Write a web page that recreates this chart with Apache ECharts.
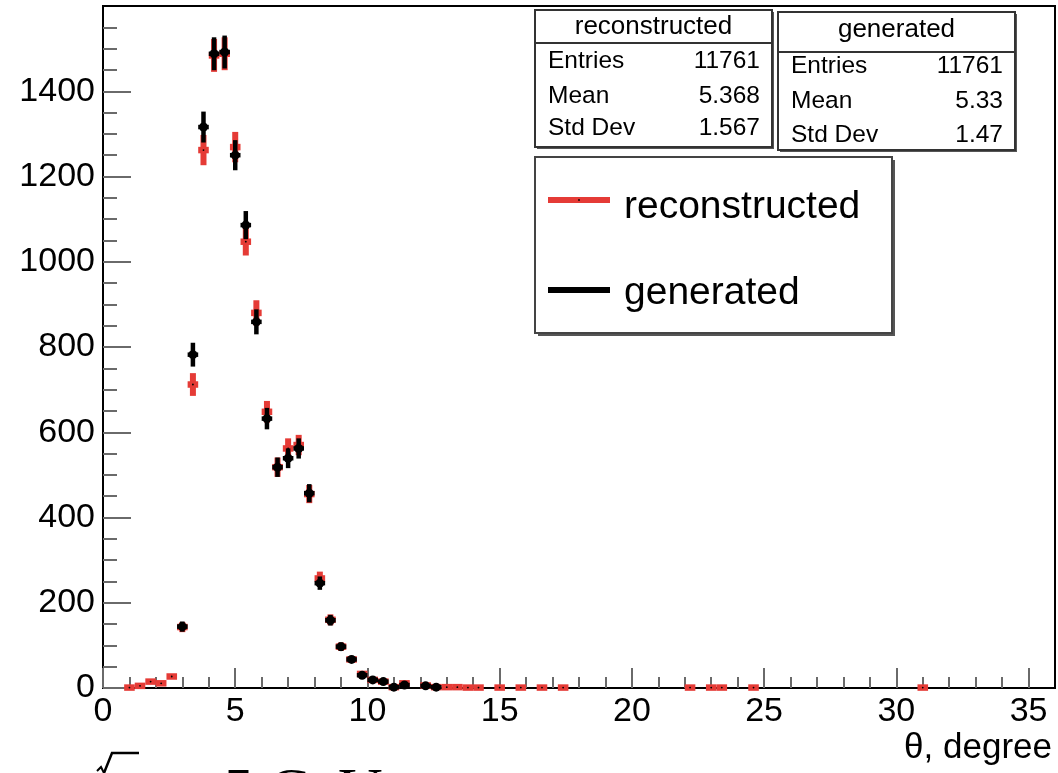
<!DOCTYPE html>
<html><head><meta charset="utf-8">
<script src="https://cdn.jsdelivr.net/npm/echarts@6/dist/echarts.min.js"></script>
<style>html,body{margin:0;padding:0;background:#fff;overflow:hidden}#c{width:1058px;height:773px}</style>
</head><body><div id="c"></div>
<script>
// ---- data (bin centres in degrees, counts per 0.4 degree bin) ----
const recX = [1.0,1.4,1.8,2.2,2.6,3.0,3.4,3.8,4.2,4.6,5.0,5.4,5.8,6.2,6.6,7.0,7.4,7.8,8.2,8.6,9.0,9.4,9.8,10.2,10.6,11.0,11.4,12.2,12.6,13.0,13.4,13.8,14.2,15.0,15.8,16.6,17.4,22.2,23.0,23.4,24.6,31.0];
const recY = [1,5,15,11,27,143,712,1262,1484,1488,1269,1047,880,648,518,562,570,455,257,160,97,67,33,19,15,2,11,6,2,2,2,1,1,1,1,1,1,1,1,1,1,1];
const genX = [3.0,3.4,3.8,4.2,4.6,5.0,5.4,5.8,6.2,6.6,7.0,7.4,7.8,8.2,8.6,9.0,9.4,9.8,10.2,10.6,11.0,11.4,12.2,12.6];
const genY = [144,782,1316,1488,1492,1250,1086,859,632,518,539,562,457,246,159,97,67,30,19,15,2,7,5,2];
const BIN_WIDTH = 0.4;
const xMajor = [0,5,10,15,20,25,30,35];
const yMajor = [0,200,400,600,800,1000,1200,1400];
const statsRec = [["Entries","11761"],["Mean","5.368"],["Std Dev","1.567"]];
const statsGen = [["Entries","11761"],["Mean","5.33"],["Std Dev","1.47"]];
const seriesNames = ["reconstructed","generated"];
const xTitle = "θ, degree";

const xMinor = [], yMinor = [];
for (let v = 1; v < 36; v++) if (v % 5) xMinor.push(v);
for (let v = 50; v < 1600; v += 50) if (v % 200) yMinor.push(v);

const RED = '#e53b36';
const FONT = '"Liberation Sans", Arial, Helvetica, sans-serif';
const SERIF = '"Liberation Serif", "Times New Roman", serif';

function errRender(color, vW, hW, r, dot) {
  return function (params, api) {
    const x = api.value(0), y = api.value(1), e = Math.sqrt(y);
    const p = api.coord([x, y]);
    const pt = api.coord([x, y + e]);
    const pb = api.coord([x, Math.max(0, y - e)]);
    const pl = api.coord([x - BIN_WIDTH / 2, y]);
    const pr = api.coord([x + BIN_WIDTH / 2, y]);
    const ch = [
      {type:'line', shape:{x1:p[0], y1:pt[1], x2:p[0], y2:pb[1]}, style:{stroke:color, lineWidth:vW}},
      {type:'line', shape:{x1:pl[0], y1:p[1], x2:pr[0], y2:p[1]}, style:{stroke:color, lineWidth:hW}}
    ];
    if (r) ch.push({type:'circle', shape:{cx:p[0], cy:p[1], r:r}, style:{fill:color}});
    if (dot) ch.push({type:'circle', shape:{cx:p[0], cy:p[1], r:0.9}, style:{fill:dot}});
    return {type:'group', children: ch};
  };
}

function statBox(x, y, w, h, headH, title, rows, rowYs, titleY) {
  const els = [
    {type:'rect', shape:{x:x+2, y:y+2, width:w, height:h}, style:{fill:'#555'}},
    {type:'rect', shape:{x:x, y:y, width:w, height:h}, style:{fill:'#fff', stroke:'#333', lineWidth:2}},
    {type:'line', shape:{x1:x, y1:y+headH, x2:x+w, y2:y+headH}, style:{stroke:'#333', lineWidth:2}},
    {type:'text', x:x+w/2, y:titleY, style:{text:title, font:'26px ' + FONT, fill:'#000', align:'center', verticalAlign:'middle'}}
  ];
  rows.forEach((r, i) => {
    els.push({type:'text', x:x+13, y:rowYs[i], style:{text:r[0], font:'24.5px ' + FONT, fill:'#000', align:'left', verticalAlign:'middle'}});
    els.push({type:'text', x:x+w-12, y:rowYs[i], style:{text:r[1], font:'24.5px ' + FONT, fill:'#000', align:'right', verticalAlign:'middle'}});
  });
  return els;
}

const chart = echarts.init(document.getElementById('c'), null, {renderer:'canvas'});
const tickStyle = {color:'#6a6a6a', width:2};
const graphics = [].concat(
  statBox(535, 10, 237, 137, 33, seriesNames[0], statsRec, [61, 96, 128], 27),
  statBox(778, 12, 237, 138, 40, seriesNames[1], statsGen, [66, 101, 135], 30),
  [
    {type:'rect', shape:{x:538, y:160, width:357, height:176}, style:{fill:'#555'}},
    {type:'rect', shape:{x:535, y:157, width:357, height:176}, style:{fill:'#fff', stroke:'#444', lineWidth:2}},
    {type:'line', shape:{x1:548, y1:200, x2:610, y2:200}, style:{stroke:RED, lineWidth:6}},
    {type:'circle', shape:{cx:579, cy:200, r:0.9}, style:{fill:'#000'}},
    {type:'text', x:624, y:207, style:{text:seriesNames[0], font:'39px ' + FONT, fill:'#000', align:'left', verticalAlign:'middle'}},
    {type:'line', shape:{x1:548, y1:290, x2:610, y2:290}, style:{stroke:'#000', lineWidth:6}},
    {type:'text', x:624, y:293, style:{text:seriesNames[1], font:'39px ' + FONT, fill:'#000', align:'left', verticalAlign:'middle'}},
    {type:'text', x:1052, y:748, style:{text:xTitle, font:'35px ' + FONT, fill:'#000', align:'right', verticalAlign:'middle'}},
    {type:'polyline', shape:{points:[[97,771],[101,767],[104,773]]}, style:{stroke:'#000', lineWidth:2, fill:null}},
    {type:'polyline', shape:{points:[[104,773],[112,753],[139,753]]}, style:{stroke:'#000', lineWidth:2.5, fill:null}},
    {type:'text', x:112, y:793, style:{text:'s', font:'60px ' + SERIF, fill:'#000', align:'left', verticalAlign:'middle'}},
    {type:'text', x:175, y:793, style:{text:'= 5 GeV', font:'60px ' + SERIF, fill:'#000', align:'left', verticalAlign:'middle'}}
  ]
);

chart.setOption({
  animation:false,
  grid:{left:103, right:3, top:6, bottom:85, show:true, borderColor:'#000', borderWidth:2, backgroundColor:'#fff', outerBoundsMode:'none'},
  xAxis:[
    {type:'value', position:'bottom', min:0, max:36, interval:5,
     axisLine:{show:true, onZero:false, lineStyle:{color:'#000', width:2}},
     axisTick:{show:true, inside:true, length:20, customValues:xMajor, lineStyle:tickStyle},
     axisLabel:{show:true, customValues:xMajor, margin:7, color:'#000', fontSize:34, fontFamily:FONT, formatter:v => String(v)},
     splitLine:{show:false}},
    {type:'value', position:'bottom', min:0, max:36, interval:5,
     axisLine:{show:false},
     axisTick:{show:true, inside:true, length:11, customValues:xMinor, lineStyle:tickStyle},
     axisLabel:{show:false}, splitLine:{show:false}}
  ],
  yAxis:[
    {type:'value', position:'left', min:0, max:1600, interval:200,
     axisLine:{show:true, onZero:false, lineStyle:{color:'#000', width:2}},
     axisTick:{show:true, inside:true, length:28, customValues:yMajor, lineStyle:tickStyle},
     axisLabel:{show:true, customValues:yMajor, margin:8, color:'#000', fontSize:34, fontFamily:FONT, formatter:v => String(v)},
     splitLine:{show:false}},
    {type:'value', position:'left', min:0, max:1600, interval:200,
     axisLine:{show:false},
     axisTick:{show:true, inside:true, length:14, customValues:yMinor, lineStyle:tickStyle},
     axisLabel:{show:false}, splitLine:{show:false}}
  ],
  series:[
    {name:seriesNames[0], type:'custom', xAxisIndex:0, yAxisIndex:0, clip:false,
     renderItem: errRender(RED, 6, 6.5, 0, '#000'),
     data: recX.map((x, i) => [x, recY[i]]), z:2},
    {name:seriesNames[1], type:'custom', xAxisIndex:0, yAxisIndex:0, clip:false,
     renderItem: errRender('#000', 4.5, 4.5, 4.5, null),
     data: genX.map((x, i) => [x, genY[i]]), z:3}
  ],
  graphic: graphics
});
</script></body></html>
